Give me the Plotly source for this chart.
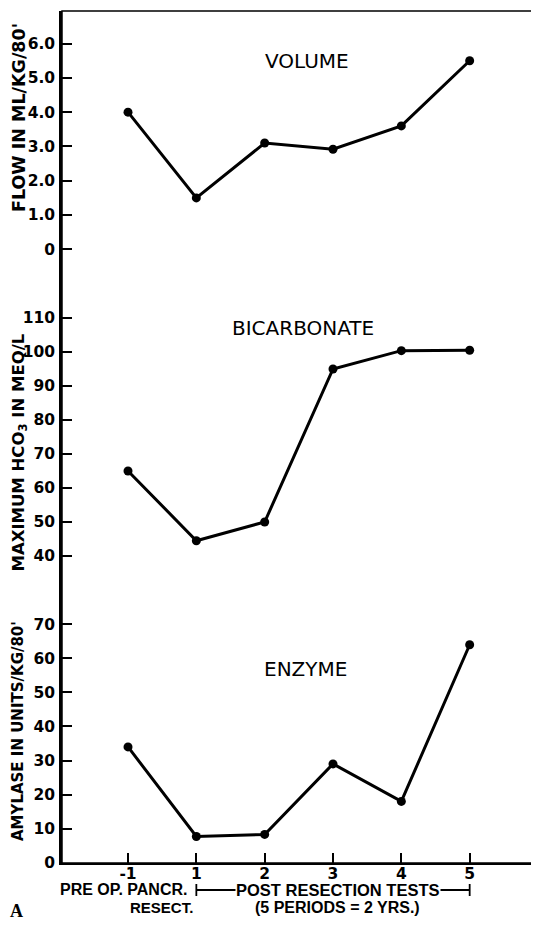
import plotly.graph_objects as go

# ---- data ----
periods = ["-1", "1", "2", "3", "4", "5"]
volume = [4.0, 1.5, 3.1, 2.92, 3.6, 5.5]
bicarbonate = [65, 44.5, 50, 95, 100.4, 100.5]
enzyme = [34, 7.7, 8.3, 29, 18, 64]

vol_ticks = [0, 1, 2, 3, 4, 5, 6]
vol_ticktext = ["0", "1.0", "2.0", "3.0", "4.0", "5.0", "6.0"]
bic_ticks = [40, 50, 60, 70, 80, 90, 100, 110]
enz_ticks = [0, 10, 20, 30, 40, 50, 60, 70]

DIG = "DejaVu Sans"
SANS = "Liberation Sans"
OFF = 8  # page body margin
W, H = 539 - OFF, 929 - 2 * OFF
# plot area in screen pixels: x 62..538, y 11..863
L, T = 62 - OFF, 11 - OFF
R = W - (538 - OFF)
B = H - (863 - OFF)
PW, PH = 476, 852


def px(x):
    return (x - 62) / PW


def py(y):
    return (863 - y) / PH


d1 = 1 - (284 - 11) / PH
d2 = 1 - (590 - 11) / PH

fig = go.Figure()
line = dict(color="black", width=3)
marker = dict(color="black", size=9)
fig.add_trace(go.Scatter(x=periods, y=volume, mode="lines+markers", line=line, marker=marker,
                         xaxis="x", yaxis="y", showlegend=False))
fig.add_trace(go.Scatter(x=periods, y=bicarbonate, mode="lines+markers", line=line, marker=marker,
                         xaxis="x", yaxis="y2", showlegend=False))
fig.add_trace(go.Scatter(x=periods, y=enzyme, mode="lines+markers", line=line, marker=marker,
                         xaxis="x", yaxis="y3", showlegend=False))

tickfont = dict(family=DIG, size=15.5, color="black", weight="bold")
yax = dict(showline=True, linecolor="black", linewidth=2.5, ticks="inside", ticklen=10,
           tickwidth=2, tickcolor="black", showgrid=False, zeroline=False, tickfont=tickfont,
           ticklabelstandoff=1)

fig.update_layout(
    width=W, height=H,
    margin=dict(l=L, r=R, t=T, b=B, autoexpand=False),
    paper_bgcolor="white", plot_bgcolor="white",
    xaxis=dict(type="category", categoryorder="array", categoryarray=periods,
               range=[-0.966, 6.0], anchor="y3", showline=True, linecolor="black", linewidth=2,
               ticks="inside", ticklen=10, tickwidth=2, tickcolor="black", showgrid=False,
               zeroline=False, tickfont=tickfont, ticklabelstandoff=-5),
    yaxis=dict(domain=[d1, 1], range=[-1.01, 6.95], tickvals=vol_ticks, ticktext=vol_ticktext,
               anchor="x", **yax),
    yaxis2=dict(domain=[d2, d1], range=[30, 120], tickvals=bic_ticks, anchor="x", **yax),
    yaxis3=dict(domain=[0, d2], range=[-0.09, 80.07], tickvals=enz_ticks, anchor="x", **yax),
)

# frame
fig.add_shape(type="rect", xref="paper", yref="paper", x0=0, y0=0, x1=1, y1=1,
              line=dict(color="black", width=1.5), layer="above")


def ann(text, x, y, size, bold=False, angle=0, family=SANS, **kw):
    fig.add_annotation(text=text, x=px(x), y=py(y), xref="paper", yref="paper",
                       showarrow=False, xanchor="center", yanchor="middle", textangle=angle,
                       font=dict(family=family, size=size, color="black",
                                 weight="bold" if bold else "normal"), **kw)


# panel titles
ann("VOLUME", 306.7, 61, 20, family=DIG)
ann("BICARBONATE", 303, 327.5, 20, family=DIG)
ann("ENZYME", 305.5, 668.5, 20, family=DIG)

# y titles
ann("FLOW IN ML/KG/80'", 19, 118, 17.5, bold=True, angle=-90, family=DIG)
ann("MAXIMUM HCO<sub>3</sub> IN MEQ/L", 18.5, 453, 16.5, bold=True, angle=-90, family=DIG)
ann("AMYLASE IN UNITS/KG/80'", 17.5, 731.5, 15, bold=True, angle=-90, family=DIG)

# bracket for post-resection tests
yb = py(890)
cap = 6 / PH
fig.add_shape(type="line", xref="x", yref="paper", x0=periods[1], x1=periods[-1], y0=yb, y1=yb,
              line=dict(color="black", width=1.8))
for p in (periods[1], periods[-1]):
    fig.add_shape(type="line", xref="x", yref="paper", x0=p, x1=p, y0=yb - cap, y1=yb + cap,
                  line=dict(color="black", width=1.8))
ann("POST RESECTION TESTS", 337.5, 889.5, 16.5, bold=True, bgcolor="white", borderpad=0)

# x captions
ann("PRE OP. PANCR.", 123.5, 889.5, 16, bold=True)
ann("RESECT.", 161, 907.5, 15, bold=True)
ann("(5 PERIODS = 2 YRS.)", 337, 907.5, 16, bold=True)

# panel letter
ann("A", 16, 911, 18, bold=True, family="Liberation Serif")

fig.write_html("out.html")
